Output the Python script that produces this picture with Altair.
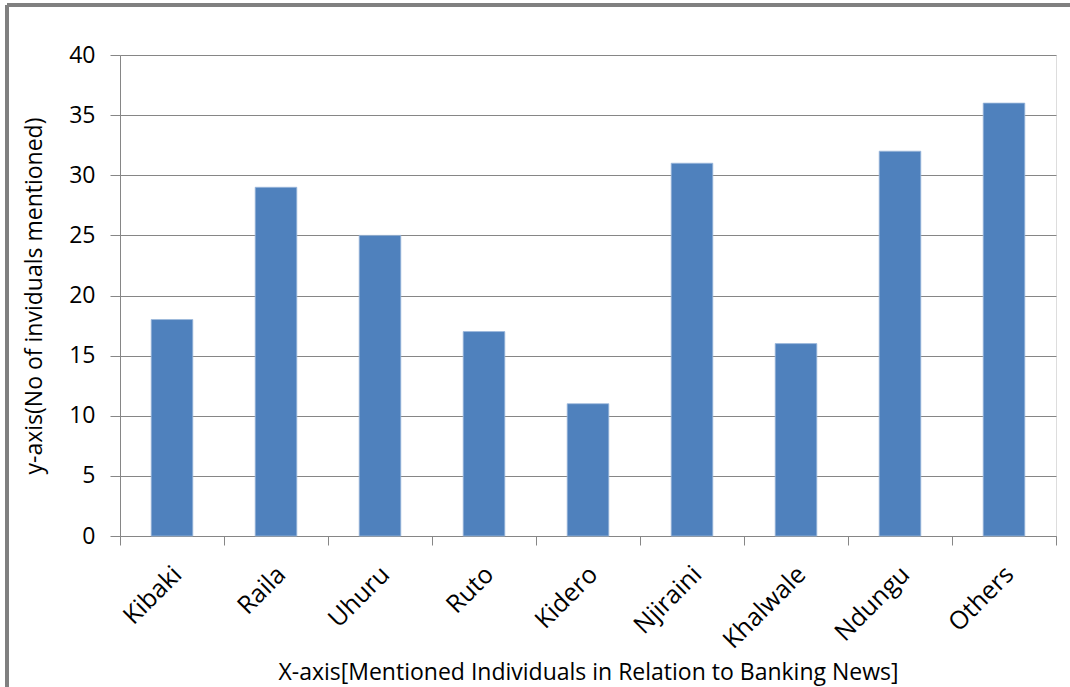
import altair as alt
import pandas as pd

names = ["Kibaki", "Raila", "Uhuru", "Ruto", "Kidero", "Njiraini", "Khalwale", "Ndungu", "Others"]
counts = [18, 29, 25, 17, 11, 31, 16, 32, 36]
y_ticks = [0, 5, 10, 15, 20, 25, 30, 35, 40]

df = pd.DataFrame({"name": names, "count": counts})

FONT = "Open Sans"
GRID = "#868686"

bars = alt.Chart(df).mark_bar(color="#4F81BD", stroke="#9DB9DC", strokeWidth=0.8,
                              width={"band": 0.4}).encode(
    x=alt.X("name:N", sort=names,
            scale=alt.Scale(paddingInner=0, paddingOuter=0),
            axis=alt.Axis(title="X-axis[Mentioned Individuals in Relation to Banking News]",
                          labelAngle=-45, labelAlign="right", labelBaseline="middle",
                          labelFontSize=25, labelFont=FONT, labelColor="#000000",
                          labelPadding=25, labelOffset=5, tickBand="extent", tickSize=9,
                          tickColor=GRID, domainColor=GRID, grid=False,
                          titleFont=FONT, titleFontSize=23, titleFontWeight="normal",
                          titleColor="#000000", titlePadding=8)),
    y=alt.Y("count:Q",
            scale=alt.Scale(domain=[0, 40], nice=False),
            axis=alt.Axis(title="y-axis(No of inviduals mentioned)", values=y_ticks,
                          labelFontSize=23, labelFont=FONT, labelColor="#000000",
                          labelPadding=15, tickSize=10, tickColor=GRID,
                          domainColor=GRID, gridColor=GRID,
                          titleFont=FONT, titleFontSize=23, titleFontWeight="normal",
                          titleColor="#000000", titlePadding=22)),
)

frame_top = alt.Chart(df).mark_rule(stroke="#808080", strokeWidth=3).encode(
    x=alt.value(-113), x2=alt.value(1100), y=alt.value(-50)
)
frame_left = alt.Chart(df).mark_rule(stroke="#808080", strokeWidth=3).encode(
    x=alt.value(-113), y=alt.value(-50), y2=alt.value(800)
)

chart = alt.layer(frame_top, frame_left, bars).properties(
    width=936, height=481,
    padding={"left": 120, "top": 55, "right": 14, "bottom": 151},
    autosize=alt.AutoSizeParams(type="none"),
).configure_view(stroke=None).configure(background="#ffffff")

chart.save("out.html", embed_options={"renderer": "svg", "actions": False})
